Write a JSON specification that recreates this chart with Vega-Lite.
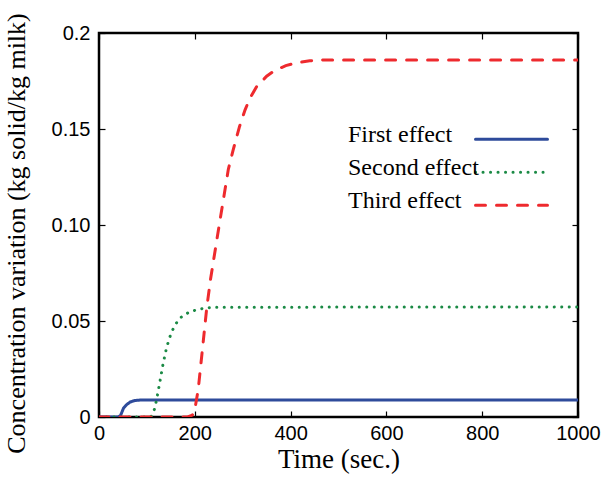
{
  "$schema": "https://vega.github.io/schema/vega-lite/v6.json",
  "width": 479,
  "height": 384,
  "autosize": "none",
  "padding": {"left": 99, "top": 33, "right": 25, "bottom": 66},
  "background": "white",
  "config": {
    "view": {"stroke": "black", "strokeWidth": 2.5},
    "axis": {
      "grid": false,
      "domain": false,
      "tickColor": "black",
      "tickWidth": 1.2,
      "tickSize": -6,
      "labelFlush": false,
      "labelFont": "Liberation Sans",
      "labelFontSize": 20,
      "labelColor": "black",
      "titleFont": "Liberation Serif",
      "titleFontSize": 27,
      "titleFontWeight": "normal",
      "titleColor": "black"
    },
    "legend": {
      "orient": "none",
      "legendX": 249,
      "legendY": 88,
      "padding": 0,
      "symbolType": "M-3,0.4H3",
      "symbolSize": 576,
      "symbolStrokeWidth": 3,
      "symbolOffset": 150,
      "labelOffset": -177,
      "labelFont": "Liberation Serif",
      "labelFontSize": 24,
      "labelColor": "black",
      "labelLimit": 300,
      "rowPadding": 7
    }
  },
  "data": {
    "values": [
      {"series": "First effect", "t": 0, "v": 0},
      {"series": "First effect", "t": 40, "v": 0},
      {"series": "First effect", "t": 45, "v": 0.0008},
      {"series": "First effect", "t": 51, "v": 0.0045},
      {"series": "First effect", "t": 58, "v": 0.0065},
      {"series": "First effect", "t": 65, "v": 0.0078},
      {"series": "First effect", "t": 75, "v": 0.0086},
      {"series": "First effect", "t": 90, "v": 0.0089},
      {"series": "First effect", "t": 1000, "v": 0.0089},
      {"series": "Second effect", "t": 0, "v": 0},
      {"series": "Second effect", "t": 108, "v": 0},
      {"series": "Second effect", "t": 113, "v": 0.002},
      {"series": "Second effect", "t": 117, "v": 0.005},
      {"series": "Second effect", "t": 124, "v": 0.014},
      {"series": "Second effect", "t": 129, "v": 0.021},
      {"series": "Second effect", "t": 134, "v": 0.028},
      {"series": "Second effect", "t": 141, "v": 0.036},
      {"series": "Second effect", "t": 147, "v": 0.041},
      {"series": "Second effect", "t": 152, "v": 0.0445},
      {"series": "Second effect", "t": 159, "v": 0.048},
      {"series": "Second effect", "t": 169, "v": 0.0515},
      {"series": "Second effect", "t": 180, "v": 0.0535},
      {"series": "Second effect", "t": 190, "v": 0.0548},
      {"series": "Second effect", "t": 205, "v": 0.0559},
      {"series": "Second effect", "t": 220, "v": 0.0567},
      {"series": "Second effect", "t": 240, "v": 0.0572},
      {"series": "Second effect", "t": 1000, "v": 0.0573},
      {"series": "Third effect", "t": 0, "v": 0},
      {"series": "Third effect", "t": 185, "v": 0},
      {"series": "Third effect", "t": 195, "v": 0.001},
      {"series": "Third effect", "t": 200, "v": 0.004},
      {"series": "Third effect", "t": 207, "v": 0.014},
      {"series": "Third effect", "t": 215, "v": 0.033},
      {"series": "Third effect", "t": 225, "v": 0.057},
      {"series": "Third effect", "t": 233, "v": 0.072},
      {"series": "Third effect", "t": 251, "v": 0.1},
      {"series": "Third effect", "t": 270, "v": 0.129},
      {"series": "Third effect", "t": 280, "v": 0.139},
      {"series": "Third effect", "t": 293, "v": 0.151},
      {"series": "Third effect", "t": 305, "v": 0.16},
      {"series": "Third effect", "t": 315, "v": 0.166},
      {"series": "Third effect", "t": 329, "v": 0.172},
      {"series": "Third effect", "t": 350, "v": 0.1775},
      {"series": "Third effect", "t": 367, "v": 0.1805},
      {"series": "Third effect", "t": 390, "v": 0.183},
      {"series": "Third effect", "t": 413, "v": 0.1845},
      {"series": "Third effect", "t": 440, "v": 0.1855},
      {"series": "Third effect", "t": 470, "v": 0.186},
      {"series": "Third effect", "t": 1000, "v": 0.186}
    ]
  },
  "layer": [
    {
      "mark": {"type": "line", "strokeWidth": 3, "strokeCap": "round", "clip": true},
      "encoding": {
        "x": {
          "field": "t", "type": "quantitative",
          "scale": {"domain": [0, 1000], "nice": false, "zero": false},
          "axis": {"orient": "bottom", "values": [0, 200, 400, 600, 800, 1000], "format": "d", "labelPadding": 12, "title": "Time (sec.)", "titlePadding": 3}
        },
        "y": {
          "field": "v", "type": "quantitative",
          "scale": {"domain": [0, 0.2], "nice": false},
          "axis": {
            "orient": "left",
            "values": [0, 0.05, 0.1, 0.15, 0.2],
            "labelExpr": "datum.value == 0 ? '0' : datum.value == 0.2 ? '0.2' : format(datum.value, '.2f')",
            "labelPadding": 15,
            "title": "Concentration variation (kg solid/kg milk)",
            "titleFontSize": 26,
            "titleY": 200,
            "titlePadding": 22
          }
        },
        "color": {
          "field": "series", "type": "nominal",
          "scale": {"domain": ["First effect", "Second effect", "Third effect"], "range": ["#2e4b9b", "#1b8a45", "#ee2a2e"]},
          "legend": {"title": null, "encode": {"symbols": {"update": {"strokeCap": {"value": "round"}}}}}
        },
        "strokeDash": {
          "field": "series", "type": "nominal",
          "scale": {"domain": ["First effect", "Second effect", "Third effect"], "range": [[1, 0], [0.1, 7.4], [10, 11]]},
          "legend": {"title": null}
        }
      }
    },
    {
      "mark": {"type": "line", "opacity": 0},
      "encoding": {
        "x": {"field": "t", "type": "quantitative", "axis": {"orient": "top", "values": [0, 200, 400, 600, 800, 1000], "labels": false, "title": null}},
        "y": {"field": "v", "type": "quantitative", "axis": {"orient": "right", "values": [0, 0.05, 0.1, 0.15, 0.2], "labels": false, "title": null}}
      }
    }
  ],
  "resolve": {"axis": {"x": "independent", "y": "independent"}}
}
